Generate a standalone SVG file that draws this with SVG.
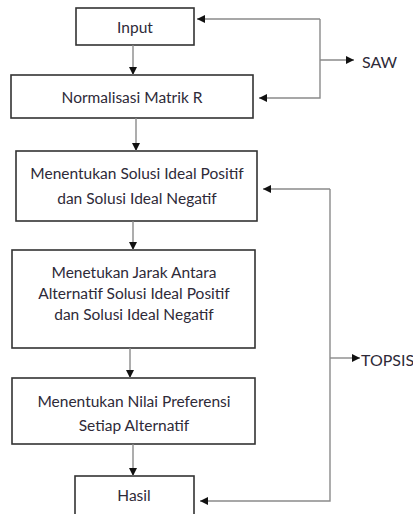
<svg xmlns="http://www.w3.org/2000/svg" width="413" height="514" viewBox="0 0 413 514">
<style>
.box{fill:#fff;stroke:#333;stroke-width:1.6}
.t{font-family:Lato,"Liberation Sans",Arial,sans-serif;font-size:15.5px;fill:#2e2a38;text-anchor:middle;dominant-baseline:central}
.c{fill:none;stroke:#8a8a8a;stroke-width:1.4}
.lbl{font-family:Lato,"Liberation Sans",Arial,sans-serif;font-size:16px;fill:#2e2a38;dominant-baseline:central}
</style>
<defs>
<marker id="ah" viewBox="0 0 10 10" refX="10" refY="5" markerWidth="8" markerHeight="8" markerUnits="userSpaceOnUse" orient="auto">
<path d="M0,0 L10,5 L0,10 z" fill="#111"/>
</marker>
</defs>
<rect width="413" height="514" fill="#fff"/>
<g id="n-input"><rect class="box" x="76" y="8" width="118" height="37"/><text class="t" x="135" y="27">Input</text></g>
<g id="n-norm"><rect class="box" x="11" y="75" width="242" height="43"/><text class="t" x="132" y="97">Normalisasi Matrik R</text></g>
<g id="n-ideal"><rect class="box" x="16" y="151" width="241" height="70"/><text class="t" x="137" y="173">Menentukan Solusi Ideal Positif</text><text class="t" x="137" y="198">dan Solusi Ideal Negatif</text></g>
<g id="n-jarak"><rect class="box" x="12" y="250" width="243" height="98"/><text class="t" x="134" y="272">Menetukan Jarak Antara</text><text class="t" x="134" y="293">Alternatif Solusi Ideal Positif</text><text class="t" x="134" y="314">dan Solusi Ideal Negatif</text></g>
<g id="n-pref"><rect class="box" x="12" y="378" width="243" height="66"/><text class="t" x="134" y="401">Menentukan Nilai Preferensi</text><text class="t" x="134" y="425">Setiap Alternatif</text></g>
<g id="n-hasil"><rect class="box" x="75" y="476" width="119" height="45"/><text class="t" x="134" y="495">Hasil</text></g>
<g id="l-saw"><text class="lbl" x="362" y="61">SAW</text></g>
<g id="l-topsis"><text class="lbl" x="361" y="359">TOPSIS</text></g>
<g id="connectors">
<line class="c" x1="133" y1="45" x2="133" y2="75" marker-end="url(#ah)"/>
<line class="c" x1="136" y1="118" x2="136" y2="151" marker-end="url(#ah)"/>
<line class="c" x1="133" y1="221" x2="133" y2="250" marker-end="url(#ah)"/>
<line class="c" x1="130" y1="348" x2="130" y2="378" marker-end="url(#ah)"/>
<line class="c" x1="133" y1="444" x2="133" y2="476" marker-end="url(#ah)"/>
<path class="c" d="M320,19 L197,19" marker-end="url(#ah)"/>
<path class="c" d="M320,19 L320,98 L259,98" marker-end="url(#ah)"/>
<path class="c" d="M320,60 L354,60" marker-end="url(#ah)"/>
<path class="c" d="M330,189 L263,189" marker-end="url(#ah)"/>
<path class="c" d="M330,189 L330,501 L200,501" marker-end="url(#ah)"/>
<path class="c" d="M330,358 L360,358" marker-end="url(#ah)"/>
</g>
</svg>
